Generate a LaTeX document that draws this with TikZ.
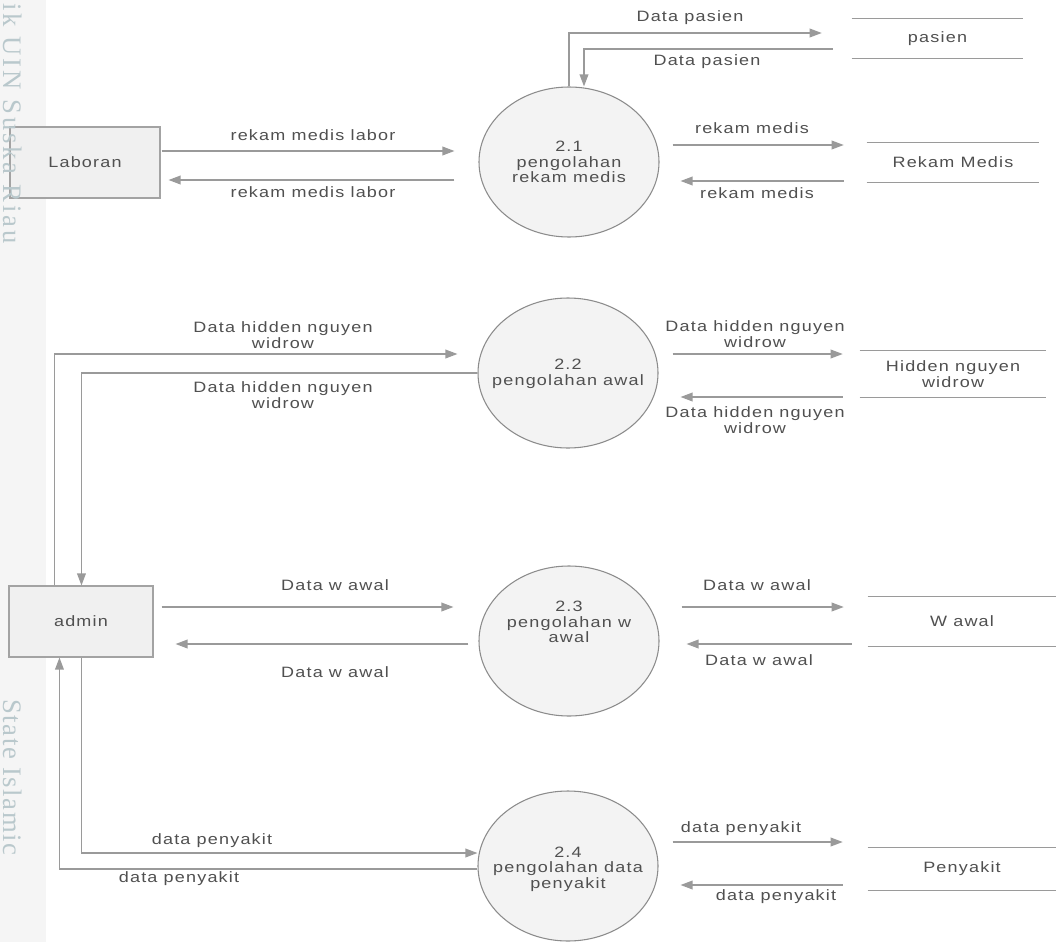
\documentclass[tikz,border=0pt]{standalone}
\usepackage{fontspec}
\setmainfont{Liberation Sans}
\newfontfamily\flowfont[FakeStretch=1.2,LetterSpace=8]{Liberation Sans}
\newfontfamily\markfont[LetterSpace=11]{Liberation Serif}
\newfontfamily\markfontb[LetterSpace=6]{Liberation Serif}
\usetikzlibrary{arrows.meta,shapes.geometric,calc}

\definecolor{ink}{HTML}{505050}
\definecolor{wire}{HTML}{9A9A9A}
\definecolor{rim}{HTML}{8C8C8C}
\definecolor{boxrim}{HTML}{A3A3A3}
\definecolor{bubble}{HTML}{F3F3F3}
\definecolor{boxfill}{HTML}{F0F0F0}
\definecolor{mark}{HTML}{B9C8CC}
\definecolor{band}{HTML}{F5F5F5}

\begin{document}
\begin{tikzpicture}[x=0.75pt,y=-0.75pt,
  every node/.style={font=\flowfont\fontsize{11.25pt}{11.6pt}\selectfont, text=ink},
  entity/.style={draw=boxrim, fill=boxfill, line width=0.8pt, minimum height=53.25pt, inner sep=0pt},
  proc/.style={ellipse, draw=rim, fill=bubble, line width=0.8pt, minimum width=135pt, minimum height=112.5pt, inner sep=0pt},
  ptext/.style={align=center, inner sep=0pt},
  store/.style={inner sep=0pt, align=center},
  storeline/.style={draw=wire, line width=1pt},
  flow/.style={draw=wire, line width=1pt, -{Triangle[length=9pt,width=6.5pt]}},
  lbl/.style={align=center, inner sep=0pt},
  wmark/.style={rotate=-90, anchor=west, inner sep=0pt, text=mark},
]
\useasboundingbox (0,0) rectangle (1056,942);
\fill[white] (0,0) rectangle (1056,942);
\fill[band] (0,0) rectangle (46,942);

% external entities
\node[entity, minimum width=112.5pt] (lab) at (85,162.5) {Laboran};
\node[entity, minimum width=108pt] (admin) at (81,621.5) {admin};

% processes
\node[proc] (c21) at (569,162) {};
\node[proc] (c22) at (568,373) {};
\node[proc] (c23) at (569,641) {};
\node[proc] (c24) at (568,866) {};
\node[ptext] (t21) at (569,162) {2.1\\pengolahan\\rekam medis};
\node[ptext] (t22) at (568,374) {2.2\\pengolahan awal};
\node[ptext] (t23) at (569,622) {2.3\\pengolahan w\\awal};
\node[ptext] (t24) at (568,869) {2.4\\pengolahan data\\penyakit};

% data stores
\node[store, minimum width=128.25pt, minimum height=29.25pt] (spas) at (937.5,38.5) {pasien};
\node[store, minimum width=129pt, minimum height=29.25pt] (srm) at (953,162.5) {Rekam Medis};
\node[store, minimum width=139.5pt, minimum height=34.5pt] (shid) at (953,374) {Hidden nguyen\\widrow};
\node[store, minimum width=141pt, minimum height=36.75pt] (swa) at (962,621.5) {W awal};
\node[store, minimum width=141pt, minimum height=31.5pt] (spen) at (962,869) {Penyakit};
\foreach \s in {spas,srm,shid,swa,spen}{
  \draw[storeline] (\s.north west) -- (\s.north east);
  \draw[storeline] (\s.south west) -- (\s.south east);
}

% Laboran <-> 2.1
\draw[flow] ($(lab.east |- 0,151)+(1,0)$) -- ($(c21.west |- 0,151)+(-24,0)$);
\draw[flow] ($(c21.west |- 0,180)+(-24,0)$) -- ($(lab.east |- 0,180)+(8,0)$);
\node[lbl] (l1) at (313,135) {rekam medis labor};
\node[lbl] (l2) at (313,192) {rekam medis labor};

% 2.1 <-> pasien
\draw[flow] (c21.north) |- ($(spas.west |- 0,33)+(-30,0)$);
\draw[flow] ($(spas.west |- 0,49)+(-19,0)$) -| ($(c21.north)+(15,0)$);
\node[lbl] (l3) at (690,18) {Data pasien};
\node[lbl] (l4) at (707,62) {Data pasien};

% 2.1 <-> Rekam Medis
\draw[flow] ($(c21.east |- 0,145)+(13,0)$) -- ($(srm.west |- 0,145)+(-23,0)$);
\draw[flow] ($(srm.west |- 0,181)+(-23,0)$) -- ($(c21.east |- 0,181)+(21,0)$);
\node[lbl] (l5) at (752,128) {rekam medis};
\node[lbl] (l6) at (757,193) {rekam medis};

% admin <-> 2.2
\draw[flow] ($(admin.north west)+(46,0)$) |- ($(c22.west |- 0,354)+(-20,0)$);
\draw[flow] (c22.west) -| ($(admin.north west)+(73,0)$);
\node[lbl] (l7) at (283,335) {Data hidden nguyen\\widrow};
\node[lbl] (l8) at (283,395) {Data hidden nguyen\\widrow};

% 2.2 <-> Hidden nguyen widrow
\draw[flow] ($(c22.east |- 0,354)+(14,0)$) -- ($(shid.west |- 0,354)+(-17,0)$);
\draw[flow] ($(shid.west |- 0,397)+(-17,0)$) -- ($(c22.east |- 0,397)+(22,0)$);
\node[lbl] (l9) at (755,334) {Data hidden nguyen\\widrow};
\node[lbl] (l10) at (755,420) {Data hidden nguyen\\widrow};

% admin <-> 2.3
\draw[flow] ($(admin.east |- 0,607)+(8,0)$) -- ($(c23.west |- 0,607)+(-25,0)$);
\draw[flow] ($(c23.west |- 0,644)+(-10,0)$) -- ($(admin.east |- 0,644)+(22,0)$);
\node[lbl] (l11) at (335,585) {Data w awal};
\node[lbl] (l12) at (335,672) {Data w awal};

% 2.3 <-> W awal
\draw[flow] ($(c23.east |- 0,607)+(22,0)$) -- ($(swa.west |- 0,607)+(-24,0)$);
\draw[flow] ($(swa.west |- 0,644)+(-16,0)$) -- ($(c23.east |- 0,644)+(27,0)$);
\node[lbl] (l13) at (757,585) {Data w awal};
\node[lbl] (l14) at (759,660) {Data w awal};

% admin <-> 2.4
\draw[flow] ($(admin.south west)+(73,0)$) |- (c24.west |- 0,853);
\draw[flow] (c24.west |- 0,869) -| ($(admin.south west)+(51,0)$);
\node[lbl] (l15) at (212,841) {data penyakit};
\node[lbl] (l16) at (179,879) {data penyakit};

% 2.4 <-> Penyakit
\draw[flow] ($(c24.east |- 0,842)+(14,0)$) -- ($(spen.west |- 0,842)+(-25,0)$);
\draw[flow] ($(spen.west |- 0,885)+(-25,0)$) -- ($(c24.east |- 0,885)+(22,0)$);
\node[lbl] (l17) at (741,829) {data penyakit};
\node[lbl] (l18) at (776,897) {data penyakit};

% side watermark text, laid over everything
\node[wmark, font=\markfont\fontsize{20pt}{20pt}\selectfont] (wm1) at (13,3) {ik UIN Suska Riau};
\node[wmark, font=\markfontb\fontsize{20pt}{20pt}\selectfont] (wm2) at (13,699) {State Islamic};
\end{tikzpicture}
\end{document}
